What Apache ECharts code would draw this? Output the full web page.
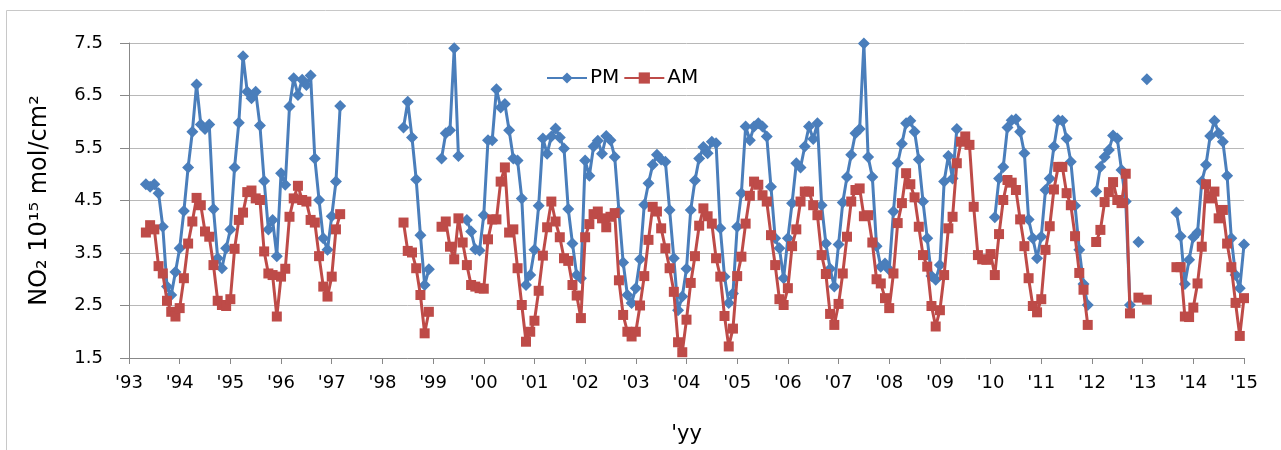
<!DOCTYPE html>
<html>
<head>
<meta charset="utf-8">
<script src="https://cdn.jsdelivr.net/npm/echarts@6/dist/echarts.min.js"></script>
<style>
  html, body { margin: 0; padding: 0; background: #ffffff; }
  #chart { width: 1281px; height: 450px; }
</style>
</head>
<body>
<div id="chart"></div>
<script>
// Monthly values, index 0 = Jan 1993 ... index 264 = Jan 2015 (null = no data)
const startYear = 1993;
const endYear = 2015;
const seriesNames = ['PM', 'AM'];
const yTicks = [1.5, 2.5, 3.5, 4.5, 5.5, 6.5, 7.5];

const pm = [
  null, null, null, null, 4.81, 4.76, 4.81, 4.64, 4.00, 2.86, 2.70, 3.14, // 1993
  3.59, 4.30, 5.13, 5.81, 6.71, 5.95, 5.86, 5.95, 4.34, 3.40, 3.21, 3.59, // 1994
  3.95, 5.13, 5.98, 7.25, 6.57, 6.45, 6.57, 5.93, 4.87, 3.95, 4.13, 3.44, // 1995
  5.02, 4.80, 6.29, 6.83, 6.51, 6.80, 6.70, 6.88, 5.30, 4.51, 3.78, 3.56, // 1996
  4.20, 4.86, 6.30, null, null, null, null, null, null, null, null, null, // 1997
  null, null, null, null, null, 5.89, 6.38, 5.70, 4.90, 3.84, 2.89, 3.19, // 1998
  null, null, 5.30, 5.78, 5.84, 7.40, 5.35, null, 4.13, 3.91, 3.57, 3.55, // 1999
  4.22, 5.65, 5.65, 6.62, 6.27, 6.34, 5.84, 5.30, 5.26, 4.54, 2.89, 3.08, // 2000
  3.56, 4.40, 5.68, 5.39, 5.72, 5.87, 5.70, 5.49, 4.34, 3.68, 3.08, 3.02, // 2001
  5.26, 4.97, 5.53, 5.64, 5.39, 5.73, 5.65, 5.33, 4.30, 3.32, 2.70, 2.55, // 2002
  2.83, 3.38, 4.42, 4.83, 5.18, 5.37, 5.28, 5.24, 4.32, 3.40, 2.41, 2.67, // 2003
  3.20, 4.32, 4.88, 5.30, 5.52, 5.40, 5.62, 5.59, 3.97, 3.05, 2.55, 2.73, // 2004
  4.00, 4.64, 5.91, 5.65, 5.91, 5.97, 5.91, 5.72, 4.76, 3.78, 3.59, 3.02, // 2005
  3.78, 4.45, 5.21, 5.13, 5.53, 5.91, 5.67, 5.97, 4.41, 3.68, 3.20, 2.86, // 2006
  3.66, 4.46, 4.95, 5.37, 5.78, 5.86, 7.49, 5.33, 4.95, 3.63, 3.24, 3.30, // 2007
  3.18, 4.29, 5.21, 5.58, 5.97, 6.02, 5.81, 5.28, 4.48, 3.78, 3.06, 2.99, // 2008
  3.27, 4.86, 5.35, 4.92, 5.86, null, null, null, null, null, null, null, // 2009
  null, 4.18, 4.92, 5.14, 5.89, 6.03, 6.05, 5.81, 5.40, 4.14, 3.78, 3.40, // 2010
  3.81, 4.70, 4.92, 5.53, 6.03, 6.02, 5.68, 5.24, 4.40, 3.56, 2.91, 2.51, // 2011
  null, 4.67, 5.14, 5.33, 5.46, 5.74, 5.68, 5.08, 4.48, 2.51, null, 3.71, // 2012
  null, 6.81, null, null, null, null, null, null, 4.27, 3.82, 2.91, 3.37, // 2013
  3.80, 3.89, 4.86, 5.18, 5.73, 6.02, 5.78, 5.62, 4.97, 3.78, 3.08, 2.83, // 2014
  3.66                                                                    // 2015
];

const am = [
  null, null, null, null, 3.89, 4.03, 3.95, 3.25, 3.11, 2.59, 2.38, 2.29, // 1993
  2.45, 3.02, 3.68, 4.10, 4.55, 4.41, 3.91, 3.81, 3.27, 2.59, 2.51, 2.49, // 1994
  2.62, 3.58, 4.13, 4.27, 4.66, 4.69, 4.54, 4.51, 3.53, 3.11, 3.08, 2.29, // 1995
  3.05, 3.20, 4.19, 4.54, 4.78, 4.51, 4.48, 4.13, 4.08, 3.44, 2.86, 2.67, // 1996
  3.05, 3.95, 4.24, null, null, null, null, null, null, null, null, null, // 1997
  null, null, null, null, null, 4.08, 3.54, 3.51, 3.21, 2.70, 1.97, 2.38, // 1998
  null, null, 4.00, 4.10, 3.62, 3.38, 4.16, 3.70, 3.27, 2.89, 2.86, 2.83, // 1999
  2.82, 3.76, 4.14, 4.14, 4.86, 5.13, 3.89, 3.95, 3.21, 2.51, 1.81, 2.00, // 2000
  2.21, 2.78, 3.45, 3.99, 4.48, 4.10, 3.80, 3.40, 3.35, 2.89, 2.69, 2.26, // 2001
  3.80, 4.05, 4.24, 4.29, 4.16, 3.99, 4.19, 4.26, 2.98, 2.32, 2.00, 1.91, // 2002
  2.00, 2.50, 3.06, 3.75, 4.38, 4.29, 3.97, 3.59, 3.21, 2.76, 1.80, 1.61, // 2003
  2.23, 2.93, 3.44, 4.02, 4.35, 4.20, 4.06, 3.40, 3.05, 2.30, 1.72, 2.06, // 2004
  3.06, 3.43, 4.06, 4.59, 4.86, 4.80, 4.60, 4.48, 3.84, 3.27, 2.62, 2.51, // 2005
  2.83, 3.63, 3.95, 4.48, 4.67, 4.67, 4.41, 4.22, 3.46, 3.10, 2.34, 2.13, // 2006
  2.53, 3.11, 3.81, 4.48, 4.70, 4.73, 4.20, 4.22, 3.70, 3.00, 2.92, 2.64, // 2007
  2.45, 3.11, 4.07, 4.45, 5.02, 4.81, 4.56, 4.00, 3.46, 3.24, 2.49, 2.10, // 2008
  2.41, 3.08, 3.97, 4.19, 5.21, 5.62, 5.72, 5.56, 4.38, 3.46, 3.38, 3.37, // 2009
  3.48, 3.08, 3.86, 4.51, 4.89, 4.84, 4.70, 4.14, 3.63, 3.02, 2.49, 2.37, // 2010
  2.62, 3.56, 4.01, 4.71, 5.14, 5.14, 4.64, 4.41, 3.82, 3.12, 2.80, 2.13, // 2011
  null, 3.71, 3.94, 4.47, 4.66, 4.85, 4.51, 4.45, 5.01, 2.35, null, 2.65, // 2012
  null, 2.61, null, null, null, null, null, null, 3.23, 3.23, 2.29, 2.28, // 2013
  2.46, 2.92, 3.62, 4.81, 4.54, 4.67, 4.16, 4.32, 3.68, 3.23, 2.55, 1.92, // 2014
  2.64                                                                    // 2015
];

function toPairs(arr) {
  return arr.map(function (v, i) { return [i, v === null ? '-' : v]; });
}

const chart = echarts.init(document.getElementById('chart'), null, { renderer: 'canvas' });
const labelFont = 'DejaVu Sans';

chart.setOption({
  animation: false,
  backgroundColor: '#ffffff',
  graphic: [{
    type: 'rect',
    shape: { x: 6.5, y: 10.5, width: 1300, height: 470 },
    style: { fill: 'none', stroke: '#c8c8c8', lineWidth: 1 },
    silent: true,
    z: -10
  }],
  legend: {
    left: 541,
    top: 63,
    itemWidth: 40,
    itemHeight: 14,
    itemGap: 4,
    textStyle: { fontFamily: labelFont, fontSize: 20, color: '#000', padding: [0, 0, 0, -2] },
    data: seriesNames
  },
  grid: { left: 129, right: 37, top: 43, bottom: 92 },
  xAxis: {
    type: 'value',
    min: 0,
    max: (endYear - startYear) * 12,
    interval: 12,
    name: "'yy",
    nameLocation: 'middle',
    nameGap: 66,
    nameTextStyle: { fontFamily: labelFont, fontSize: 21, color: '#000' },
    axisLine: { show: true, lineStyle: { color: '#888888', width: 1 } },
    axisTick: { show: true, inside: false, length: 6, lineStyle: { color: '#888888' } },
    axisLabel: {
      margin: 16,
      fontFamily: labelFont,
      fontSize: 18,
      color: '#000',
      formatter: function (v) {
        const y = startYear + Math.round(v / 12);
        return "'" + String(y % 100).padStart(2, '0');
      }
    },
    splitLine: { show: false }
  },
  yAxis: {
    type: 'value',
    min: yTicks[0],
    max: yTicks[yTicks.length - 1],
    interval: 1,
    name: 'NO\u2082 10\u00b9\u2075 mol/cm\u00b2',
    nameLocation: 'middle',
    nameGap: 77,
    nameRotate: 90,
    nameTextStyle: { fontFamily: labelFont, fontSize: 24, color: '#000' },
    axisLine: { show: true, lineStyle: { color: '#888888', width: 1 } },
    axisTick: { show: true, inside: false, length: 9, lineStyle: { color: '#888888' } },
    axisLabel: {
      margin: 26,
      fontFamily: labelFont,
      fontSize: 18,
      color: '#000',
      formatter: function (v) { return v.toFixed(1); }
    },
    splitLine: { show: true, lineStyle: { color: '#b8b8b8', width: 1 } }
  },
  series: [
    {
      name: seriesNames[0],
      type: 'line',
      data: toPairs(pm),
      connectNulls: false,
      symbol: 'diamond',
      symbolSize: 12,
      showAllSymbol: true,
      itemStyle: { color: '#4a7ebb' },
      lineStyle: { color: '#4a7ebb', width: 3 },
      z: 2
    },
    {
      name: seriesNames[1],
      type: 'line',
      data: toPairs(am),
      connectNulls: false,
      symbol: 'rect',
      symbolSize: 10,
      showAllSymbol: true,
      itemStyle: { color: '#be4b48' },
      lineStyle: { color: '#be4b48', width: 3 },
      z: 3
    }
  ]
});
</script>
</body>
</html>
